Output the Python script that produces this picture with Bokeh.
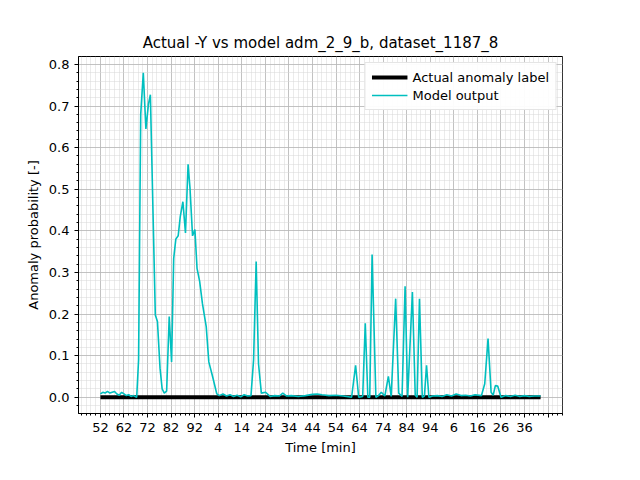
from bokeh.plotting import figure
from bokeh.models import SingleIntervalTicker, Range1d, Legend, LegendItem, NumeralTickFormatter
from bokeh.embed import file_html
from bokeh.resources import INLINE

# model output, x in samples, y in probability
out_x = [0, 1, 2, 3, 4, 5, 6, 7, 8, 9, 10, 11, 12, 13, 14, 15.4, 16.2, 17.1, 18.2, 19.3, 20.4, 21.2,
         23.3, 24.2, 25.3, 26.2, 27.1, 28.1, 29.2, 30.2, 31.1, 32, 33, 33.9, 35, 36.1, 37.2, 38,
         39.1, 40.1, 41, 42.1, 43.3, 44.9, 46, 47.6, 49.4, 50.5, 52, 53.5, 55, 56.5, 58, 59.5, 61,
         62.5, 63.9, 65, 66.1, 67.1, 68.3, 70.1, 72, 74, 76, 77.4, 79, 81, 84, 87, 90, 92, 94, 97,
         100, 103, 106.6, 108.3, 109.6, 111.3, 112.4, 113.5, 114.3, 115.3, 116.9, 118, 119.2, 120.7,
         122.2, 123.4, 125.3, 126.6, 128, 129.3, 130.4, 132.4, 133.6, 134.4, 135.4, 136.6, 137.5,
         138.4, 139.4, 141, 143, 145, 147, 149, 151, 153, 155, 157, 159, 161.7, 163.1, 164.5, 165.8,
         166.7, 167.6, 168.6, 170, 172, 174, 176, 178, 180, 182, 184, 186.8]
out_y = [0.008, 0.012, 0.01, 0.014, 0.01, 0.012, 0.014, 0.008, 0.005, 0.012, 0.008, 0.004, 0.006, 0.002, 0.004, 0.0, 0.09, 0.68, 0.78, 0.645,
         0.705, 0.727, 0.198, 0.182, 0.07, 0.02, 0.01, 0.015, 0.194, 0.085, 0.334, 0.38, 0.388, 0.435,
         0.47, 0.395, 0.56, 0.504, 0.388, 0.403, 0.31, 0.279, 0.225, 0.17, 0.085, 0.05, 0.008, 0.004,
         0.008, 0.003, 0.006, 0.002, 0.005, 0.001, 0.006, 0.003, 0.004, 0.09, 0.326, 0.08, 0.01, 0.012,
         0.002, 0.004, 0.003, 0.01, 0.003, 0.004, 0.002, 0.004, 0.007, 0.008, 0.006, 0.004, 0.005,
         0.003, 0.0, 0.077, 0.0, 0.002, 0.178, 0.0, 0.0, 0.343, 0.0, 0.004, 0.012, 0.003, 0.05, 0.002,
         0.237, 0.01, 0.002, 0.267, 0.0, 0.253, 0.005, 0.0, 0.237, 0.0, 0.003, 0.077, 0.0, 0.003,
         0.004, 0.002, 0.006, 0.003, 0.008, 0.004, 0.005, 0.003, 0.006, 0.004, 0.0325, 0.141, 0.012,
         0.005, 0.028, 0.027, 0.0, 0.004, 0.002, 0.005, 0.002, 0.004, 0.002, 0.003, 0.003]

label_x = [0, 186.8]
label_y = [0, 0]

tick_pos = list(range(0, 191, 10))
tick_labels = ["52", "62", "72", "82", "92", "4", "14", "24", "34", "44", "54", "64", "74",
               "84", "94", "6", "16", "26", "36", ""]

FONT = "DejaVu Sans"

p = figure(width=624, height=464, output_backend="svg", toolbar_location=None,
           x_range=Range1d(-9.3, 196.1), y_range=Range1d(-0.039, 0.819),
           min_border_left=78, min_border_right=62, min_border_top=56, min_border_bottom=51,
           title="Actual -Y vs model adm_2_9_b, dataset_1187_8")
p.title.align = "center"
p.title.text_font = FONT
p.title.text_font_size = "15px"
p.title.text_font_style = "normal"
p.title.text_color = "black"

r1 = p.line(label_x, label_y, line_color="black", line_width=4)
r2 = p.line(out_x, out_y, line_color="#00bfbf", line_width=1.6)

p.xaxis.ticker = SingleIntervalTicker(interval=10, num_minor_ticks=5)
p.xaxis.major_label_overrides = {t: l for t, l in zip(tick_pos, tick_labels)}
p.yaxis.ticker = SingleIntervalTicker(interval=0.1, num_minor_ticks=5)
p.yaxis.formatter = NumeralTickFormatter(format="0.0")
p.xaxis.axis_label = "Time [min]"
p.yaxis.axis_label = "Anomaly probability [-]"
for ax in (p.xaxis, p.yaxis):
    ax.axis_label_text_font = FONT
    ax.axis_label_text_font_size = "13px"
    ax.axis_label_text_font_style = "normal"
    ax.axis_label_text_color = "black"
    ax.major_label_text_font = FONT
    ax.major_label_text_font_size = "13px"
    ax.major_label_text_color = "black"
    ax.major_tick_in = 0
    ax.major_tick_out = 4
    ax.minor_tick_in = 0
    ax.minor_tick_out = 2
    ax.axis_line_color = "black"
    ax.major_tick_line_color = "black"
    ax.minor_tick_line_color = "black"

p.grid.grid_line_color = "#b0b0b0"
p.grid.grid_line_alpha = 0.7
p.grid.minor_grid_line_color = "#d8d8d8"
p.grid.minor_grid_line_alpha = 0.5
p.outline_line_color = "black"

legend = Legend(items=[LegendItem(label="Actual anomaly label", renderers=[r1]),
                       LegendItem(label="Model output", renderers=[r2])],
                location="top_right", label_text_font=FONT, label_text_font_size="13px",
                label_text_color="black",
                border_line_color="#cccccc", glyph_width=36, spacing=2, padding=6, margin=6,
                label_height=16, glyph_height=16)
p.add_layout(legend)

open("out.html", "w").write(file_html(p, INLINE))
